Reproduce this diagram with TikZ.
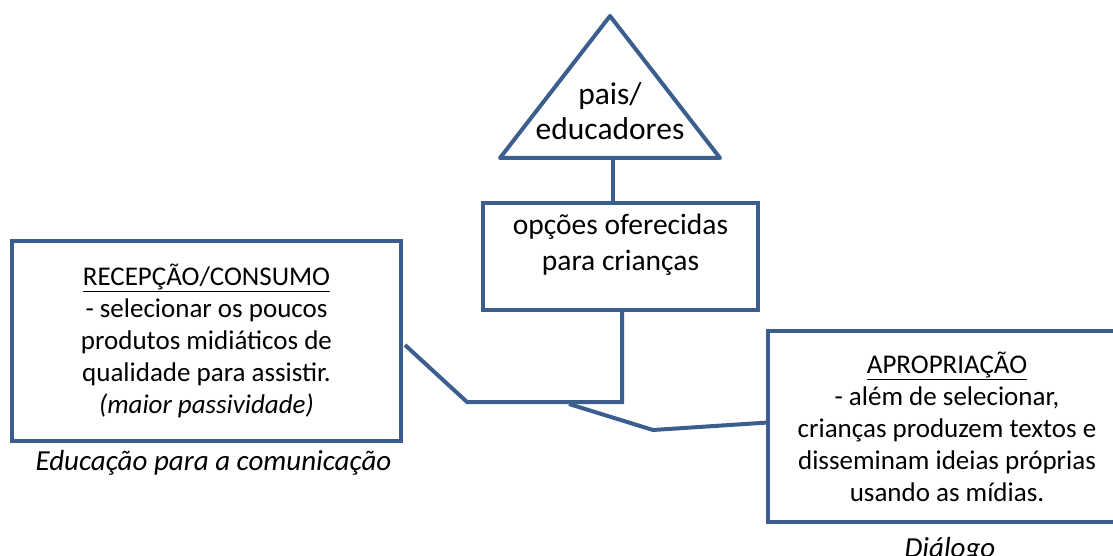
\documentclass[tikz,border=0pt]{standalone}
\usepackage{fontspec}
\setmainfont{Carlito}
\usepackage{xcolor}
\definecolor{wordblue}{HTML}{3B5E8E}
\usetikzlibrary{positioning,calc}
\newcommand{\boxfont}{\fontsize{27}{32}\selectfont}
\newcommand{\midfont}{\fontsize{29.5}{35.5}\selectfont}
\newcommand{\trifont}{\fontsize{31.5}{35}\selectfont}

\begin{document}
\begin{tikzpicture}[x=1pt,y=-1pt,
	box/.style={draw=wordblue,line width=4pt,rectangle,inner sep=0pt,align=center,font=\boxfont},
	link/.style={draw=wordblue,line width=4pt},
	caption/.style={inner sep=0pt,font=\fontsize{29}{34}\selectfont\itshape}]
	\useasboundingbox (0,0) rectangle (1113,556);
	
	% triangle on top
	\coordinate (apex) at (610,16);
	\coordinate (baseL) at (500,158);
	\coordinate (baseR) at (720,158);
	\draw[link,line join=round] (apex) -- (baseL) -- (baseR) -- cycle;
	\node[align=center,inner sep=0pt,font=\trifont] (pais) at (610,111) {pais/\\educadores};
	\coordinate (tribase) at (613,158);
	
	% draw boxes
	\node[box,minimum width=275pt,minimum height=107pt] (opcoes) at (620.5,256.5) {};
	\node[align=center,inner sep=0pt,font=\midfont,below=13pt of opcoes.north] (opcoestxt) {opções oferecidas\\para crianças};
	
	\node[box,minimum width=389pt,minimum height=200pt] (recepcao) at (206.5,341) 
	{\underline{RECEPÇÃO/CONSUMO}\\- selecionar os poucos\\produtos midiáticos de\\qualidade para assistir.\\\textit{(maior passividade)}};
	
	\node[box,minimum width=358pt,minimum height=191pt] (apropriacao) at (947,426.5) 
	{\underline{APROPRIAÇÃO}\\- além de selecionar,\\crianças produzem textos e\\disseminam ideias próprias\\usando as mídias.};
	
	% captions
	\node[caption,below=7pt of recepcao,xshift=7pt] (educacao) {Educação para a comunicação};
	\node[caption,below=13pt of apropriacao,xshift=3pt] (dialogo) {Diálogo};
	
	%%% connectors
	\draw[link] (tribase) -- (tribase |- opcoes.north);
	\coordinate (tee) at (622,402);
	\coordinate (elbow) at (467,402);
	\draw[link] (tee |- opcoes.south) -- (tee) -- (elbow) -- ($(recepcao.east)+(2,4)$);
	\coordinate (fork) at (569,404);
	\coordinate (knee) at (653,430);
	\draw[link] (fork) -- (knee) -- ($(apropriacao.west)+(2,-4)$);
\end{tikzpicture}
\end{document}
